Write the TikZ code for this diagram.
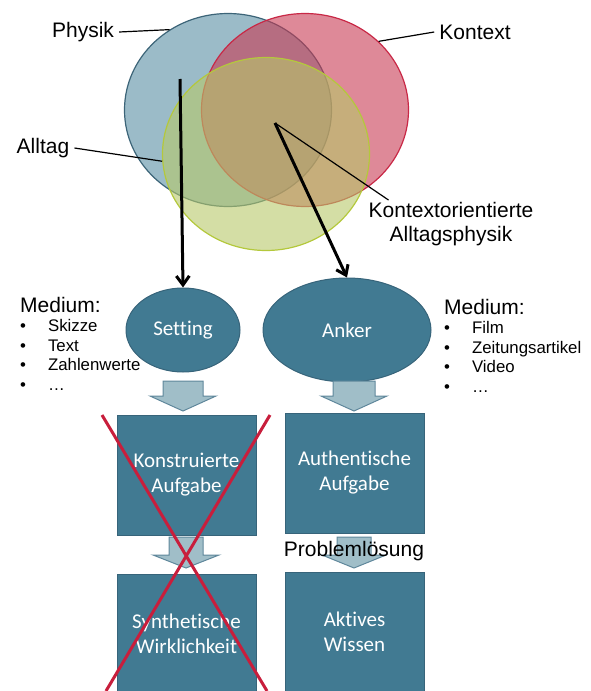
\documentclass[tikz,border=0pt]{standalone}
\usepackage{fontspec}
\setmainfont{Liberation Sans}
\newfontfamily\calibri[Ligatures=NoCommon]{Carlito}
\usepackage{xcolor}
\usetikzlibrary{shapes,arrows,positioning,calc,arrows.meta}

\definecolor{kreisblau}{RGB}{88,142,163}
\definecolor{randblau}{RGB}{60,100,120}
\definecolor{kreisrot}{RGB}{200,58,83}
\definecolor{randrot}{RGB}{200,40,70}
\definecolor{kreisgruen}{RGB}{183,200,105}
\definecolor{randgruen}{RGB}{180,200,60}
\definecolor{feld}{RGB}{65,122,146}
\definecolor{feldrand}{RGB}{55,100,122}
\definecolor{pfeilhell}{RGB}{160,190,200}
\definecolor{pfeilrand}{RGB}{95,135,155}
\definecolor{kreuz}{RGB}{200,30,60}

% block arrow: x, top, head base, tip, half shaft, half head
\newcommand{\blockpfeil}[6]{%
  \draw[fill=pfeilhell, draw=pfeilrand, line width=1pt] (#1-#5,#2) -- (#1+#5,#2) -- (#1+#5,#3) -- (#1+#6,#3) -- (#1,#4) -- (#1-#6,#3) -- (#1-#5,#3) -- cycle;}

\begin{document}
\begin{tikzpicture}[x=1pt,y=-1pt,
    kreis/.style={ellipse, minimum width=207pt, minimum height=193pt, inner sep=0pt, line width=1.2pt, fill opacity=0.6},
    beschr/.style={font=\fontsize{21}{24}\selectfont, inner sep=5pt},
    oval/.style={ellipse, fill=feld, draw=feldrand, line width=1pt, text=white, font=\calibri\fontsize{21}{25}\selectfont},
    feldbox/.style={rectangle, fill=feld, draw=feldrand, line width=1pt, text=white, align=center, minimum width=139pt, minimum height=120pt, font=\calibri\fontsize{21}{25}\selectfont},
    liste/.style={anchor=north west, inner sep=0pt, font=\fontsize{16.8}{19.5}\selectfont},
    dick/.style={line width=3pt, -{Straight Barb[length=9pt,width=13pt]}},
    duenn/.style={line width=1.2pt}]
    \useasboundingbox (0,0) rectangle (590,691);

    % Venn diagram
    \node[kreis, fill=kreisblau, draw=randblau] (blau) at (228,110) {};
    \node[kreis, fill=kreisrot, draw=randrot] (rot) at (305,110) {};
    \node[kreis, fill=kreisgruen, draw=randgruen] (gruen) at (266,154) {};
    \coordinate (mitte) at (275,123);
    \coordinate (start) at (180,79);

    \node[beschr] (physik) at (83,32) {Physik};
    \node[beschr] (kontext) at (475,32) {Kontext};
    \node[beschr] (alltag) at (43,148) {Alltag};
    \node[beschr, align=center] (kao) at (451,224) {Kontextorientierte\\Alltagsphysik};
    \draw[duenn] (physik.east) -- (blau.126);
    \draw[duenn] (kontext.west) -- (rot.43);
    \draw[duenn] (alltag.east) -- (gruen.184);
    \draw[duenn] (mitte) -- ($(kao.north west)+(25,3)$);

    % setting and anchor
    \node[oval, minimum width=114pt, minimum height=84pt] (setting) at (183,330) {Setting};
    \node[oval, minimum width=168pt, minimum height=104pt] (anker) at (347,330) {Anker};
    \draw[dick] (start) -- (setting.north);
    \draw[dick] (mitte) -- (anker.north);

    \node[anchor=west, inner sep=0pt, font=\fontsize{21}{24}\selectfont] (mediuml) at (20,305) {Medium:};
    \node[liste] (listel) at ($(mediuml.south west)+(0,5)$) {\begin{tabular}{@{}l@{\hspace{22pt}}l@{}}
      \textbullet & Skizze\\ \textbullet & Text\\ \textbullet & Zahlenwerte\\ \textbullet & \ldots
    \end{tabular}};
    \node[anchor=west, inner sep=0pt, font=\fontsize{21}{24}\selectfont] (mediumr) at (444,307) {Medium:};
    \node[liste] (lister) at ($(mediumr.south west)+(0,5)$) {\begin{tabular}{@{}l@{\hspace{22pt}}l@{}}
      \textbullet & Film\\ \textbullet & Zeitungsartikel\\ \textbullet & Video\\ \textbullet & \ldots
    \end{tabular}};

    % tasks
    \node[feldbox] (konstr) at (186.5,475) {Konstruierte\\Aufgabe};
    \node[feldbox] (authen) at (354.5,473) {Authentische\\Aufgabe};
    \node[feldbox] (synth) at (186.5,634) {Synthetische\\Wirklichkeit};
    \node[feldbox] (aktiv) at (354.5,632) {Aktives\\Wissen};

    \blockpfeil{183}{381}{396}{411}{20}{33}
    \blockpfeil{354}{381}{396}{411}{21}{33}
    \blockpfeil{186}{537}{555}{568}{17}{33}
    \blockpfeil{354}{537}{555}{568}{17}{32}
    \node[beschr] (problem) at (354,551) {Problemlösung};

    % crossed out
    \coordinate (xa) at (102,415);
    \coordinate (xb) at (267,691);
    \coordinate (xc) at (270,415);
    \coordinate (xd) at (106,691);
    \draw[draw=kreuz, line width=3pt] (xa) -- (xb) (xc) -- (xd);
\end{tikzpicture}
\end{document}
